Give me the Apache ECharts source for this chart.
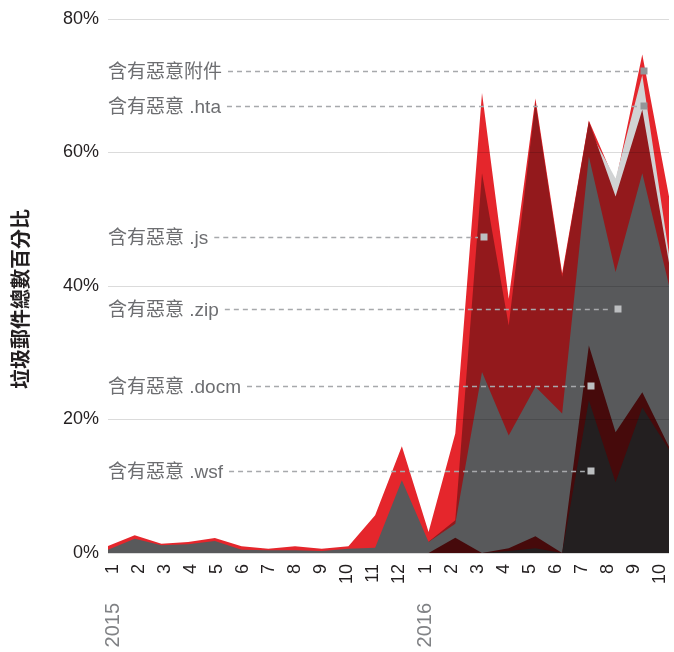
<!DOCTYPE html>
<html>
<head>
<meta charset="utf-8">
<script src="https://cdn.jsdelivr.net/npm/echarts@6/dist/echarts.min.js"></script>
<style>
html,body{margin:0;padding:0;background:#fff;}
#chart{width:674px;height:652px;}
</style>
</head>
<body>
<div id="chart"></div>
<script>
// ---- data ----
var months = ['1','2','3','4','5','6','7','8','9','10','11','12','1','2','3','4','5','6','7','8','9','10'];
var yearLabels = ['2015','','','','','','','','','','','','2016','','','','','','','','',''];
var yTicks = [0, 20, 40, 60, 80];

var attachAll = [1.05, 2.65, 1.4, 1.65, 2.25, 1.0, 0.65, 1.0, 0.65, 1.0, 5.65, 16.0, 3.15, 17.9, 68.9, 38.1, 68.1, 41.9, 64.8, 55.5, 74.7, 53.4];
var htaVals   = [0, 0, 0, 0, 0, 0, 0, 0, 0, 0, 0, 0, 0, 0, 0, 0, 0, 0, 63.5, 56.1, 71.6, 44.8];
var jsVals    = [0, 0, 0, 0, 0, 0, 0, 0, 0, 0, 0, 0, 1.7, 4.9, 56.9, 34.1, 67.5, 41.4, 64.7, 53.4, 66.4, 43.5];
var zipVals   = [0.5, 2.15, 1.15, 1.3, 1.8, 0.5, 0.4, 0.4, 0.3, 0.65, 0.8, 10.9, 1.65, 4.4, 27.1, 17.6, 24.9, 20.9, 59.4, 42.1, 56.9, 40.1];
var docmVals  = [0, 0, 0, 0, 0, 0, 0, 0, 0, 0, 0, 0, 0, 2.3, 0, 0.7, 2.5, 0, 31.1, 18.1, 24.1, 15.9];
var wsfVals   = [0, 0, 0, 0, 0, 0, 0, 0, 0, 0, 0, 0, 0, 0, 0, 0.3, 0.7, 0, 22.9, 10.6, 21.8, 15.5];

var seriesNames = ['含有惡意附件', '含有惡意 .hta', '含有惡意 .js', '含有惡意 .zip', '含有惡意 .docm', '含有惡意 .wsf'];
var annotIndex  = [20, 20, 14, 19, 18, 18];
var annotValue  = [72.2, 67.0, 47.4, 36.6, 25.0, 12.3];

// ---- styles ----
var colors = ['#e5262c', '#d1d3d4', '#93191c', '#58595b', '#460a0b', '#231f20'];
var markerColors = ['#939598', '#939598', '#bcbec0', '#bcbec0', '#bcbec0', '#bcbec0'];
var FONT = "'Liberation Sans', 'Noto Sans CJK TC', sans-serif";

var chart = echarts.init(document.getElementById('chart'), null, {renderer: 'canvas'});
var allVals = [attachAll, htaVals, jsVals, zipVals, docmVals, wsfVals];

var series = allVals.map(function (vals, i) {
  var s = {
    name: seriesNames[i],
    type: 'line',
    data: vals,
    symbol: 'none',
    showSymbol: false,
    lineStyle: {width: 0, color: colors[i]},
    itemStyle: {color: colors[i]},
    areaStyle: {color: colors[i], opacity: 1},
    animation: false,
    silent: true
  };
  if (i === allVals.length - 1) {
    s.markLine = {
      silent: true,
      symbol: ['none', 'none'],
      label: {show: false},
      animation: false,
      lineStyle: {color: 'rgba(0,0,0,0.14)', type: 'solid', width: 1},
      data: yTicks.map(function (t) { return {yAxis: t}; })
    };
  }
  return s;
});

chart.setOption({
  animation: false,
  grid: [
    {left: 108, right: 5, top: 19, bottom: 99, containLabel: false},
    {left: 100, right: 1, top: 19, bottom: 99, containLabel: false, show: false}
  ],
  xAxis: [{
    gridIndex: 0,
    type: 'category',
    data: months,
    boundaryGap: false,
    axisLine: {show: false}, axisTick: {show: false}, splitLine: {show: false},
    axisLabel: {show: false}
  }, {
    gridIndex: 1,
    type: 'category',
    data: months,
    boundaryGap: true,
    axisLine: {show: false}, axisTick: {show: false}, splitLine: {show: false},
    axisLabel: {rotate: 90, interval: 0, fontSize: 18, color: '#231f20', fontFamily: FONT, margin: 11}
  }, {
    gridIndex: 1,
    type: 'category',
    data: months,
    boundaryGap: true,
    position: 'bottom',
    offset: 40,
    axisLine: {show: false}, axisTick: {show: false}, splitLine: {show: false},
    axisLabel: {
      rotate: 90, interval: 0, fontSize: 20, color: '#808285', fontFamily: FONT, margin: 10,
      formatter: function (v, i) { return yearLabels[i]; }
    }
  }],
  yAxis: [{
    gridIndex: 0,
    type: 'value',
    min: 0, max: 80, interval: 20,
    axisLine: {show: false}, axisTick: {show: false}, splitLine: {show: false},
    axisLabel: {formatter: '{value}%', fontSize: 18, color: '#231f20', fontFamily: FONT, margin: 9}
  }, {
    gridIndex: 1,
    type: 'value',
    min: 0, max: 80, interval: 20,
    show: false
  }],
  series: series
});

// ---- annotations (positions computed via the chart's own scales) ----
var ctx = document.createElement('canvas').getContext('2d');
var annotFont = '19px ' + FONT;
ctx.font = annotFont;
var graphics = [];
var gridLeft = chart.convertToPixel({gridIndex: 0}, [0, 0])[0];
seriesNames.forEach(function (name, i) {
  var p = chart.convertToPixel({gridIndex: 0}, [annotIndex[i], annotValue[i]]);
  var w = ctx.measureText(name).width;
  var yy = Math.round(p[1]) + 0.5;
  graphics.push({
    type: 'text', x: gridLeft, y: p[1] + 2, silent: true, z: 100,
    style: {text: name, font: annotFont, fill: '#6d6e71', align: 'left', verticalAlign: 'middle', textAlign: 'left', textVerticalAlign: 'middle'}
  });
  graphics.push({
    type: 'line', silent: true, z: 100,
    shape: {x1: gridLeft + w + 6, y1: yy, x2: p[0] - 4, y2: yy},
    style: {stroke: '#a7a9ac', lineWidth: 1.3, lineDash: [5, 4]}
  });
  graphics.push({
    type: 'rect', silent: true, z: 101,
    shape: {x: Math.round(p[0]) - 1.5, y: yy - 4, width: 7, height: 7},
    style: {fill: markerColors[i]}
  });
});
var midY = chart.convertToPixel({gridIndex: 0}, [0, 40])[1];
graphics.push({
  type: 'text', x: 22, y: midY + 13, rotation: Math.PI / 2, silent: true, z: 100,
  style: {text: '垃圾郵件總數百分比', font: 'bold 20px ' + FONT, fill: '#231f20',
          align: 'center', verticalAlign: 'middle', textAlign: 'center', textVerticalAlign: 'middle'}
});
chart.setOption({graphic: graphics});
</script>
</body>
</html>
